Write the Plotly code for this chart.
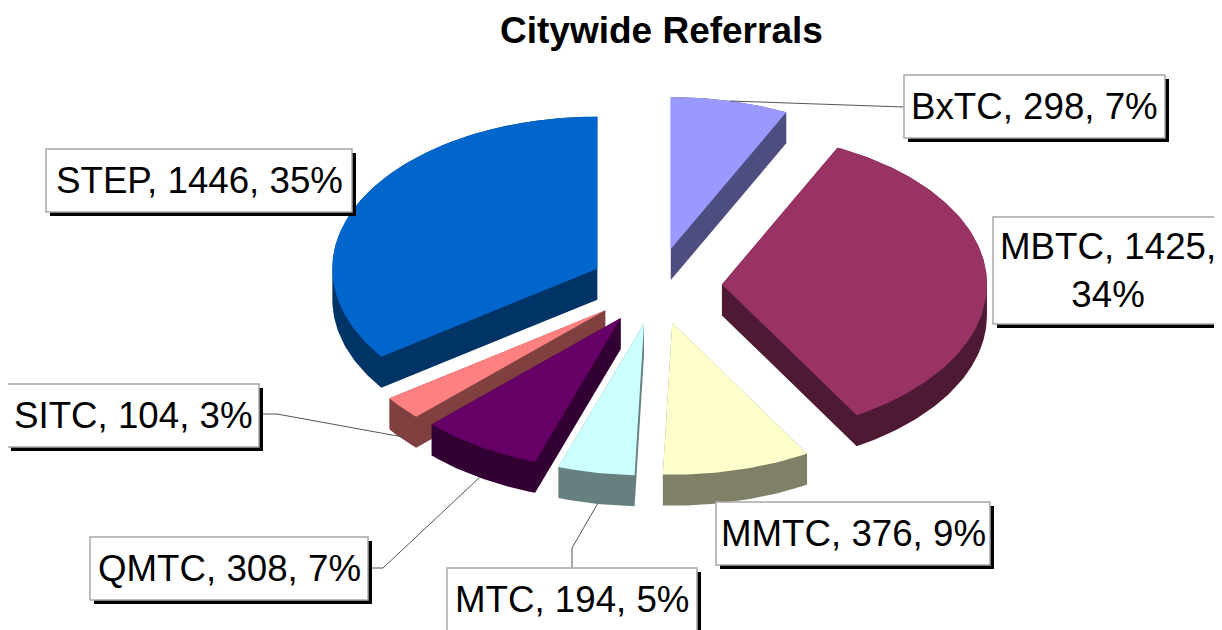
import math
import plotly.graph_objects as go

title = "Citywide Referrals"
names = ["BxTC", "MBTC", "MMTC", "MTC", "QMTC", "SITC", "STEP"]
values = [298, 1425, 376, 194, 308, 104, 1446]
top_colors = ["#9999FF", "#993366", "#FFFFCC", "#CCFFFF", "#660066", "#FF8080", "#0066CC"]
side_colors = ["#4D4D80", "#4D1933", "#808066", "#668080", "#330033", "#804040", "#003366"]

# pie geometry, in page pixels
CX, CY = 656, 286
RX, RY = 265, 152
EXPLODE = 66
DEPTH = 31
# drawing order, back to front
order = ["BxTC", "STEP", "MBTC", "SITC", "QMTC", "MMTC", "MTC"]

boxes = {
    "BxTC": (904, 75, 1165, 138),
    "MBTC": (993, 217, 1226, 324),
    "MMTC": (716, 502, 990, 565),
    "MTC": (447, 568, 697, 634),
    "QMTC": (90, 537, 368, 600),
    "SITC": (7, 384, 259, 447),
    "STEP": (46, 149, 352, 212),
}
leaders = [
    [(904, 107), (730, 101)],
    [(259, 414), (277, 414), (403, 437)],
    [(368, 568), (383, 568), (480, 477)],
    [(598, 503), (572, 548), (572, 568)],
]


def hull(points):
    pts = sorted(set(points))
    def half(seq):
        out = []
        for p in seq:
            while len(out) >= 2 and (out[-1][0] - out[-2][0]) * (p[1] - out[-2][1]) - (out[-1][1] - out[-2][1]) * (p[0] - out[-2][0]) <= 0:
                out.pop()
            out.append(p)
        return out[:-1]
    return half(pts) + half(pts[::-1])


total = sum(values)
start = 0.0
wedges = {}
for n, v in zip(names, values):
    sweep = 360 * v / total
    mid = math.radians(start + sweep / 2)
    ax = CX + EXPLODE * math.sin(mid)
    ay = CY - EXPLODE * RY / RX * math.cos(mid)
    steps = max(int(sweep), 4)
    outline = [(ax, ay)]
    for i in range(steps + 1):
        a = math.radians(start + sweep * i / steps)
        outline.append((ax + RX * math.sin(a), ay - RY * math.cos(a)))
    wedges[n] = outline
    start += sweep

fig = go.Figure()
for n in order:
    i = names.index(n)
    pts = wedges[n]
    solid = hull(pts + [(x, y + DEPTH) for x, y in pts])
    solid.append(solid[0])
    fig.add_trace(go.Scatter(x=[p[0] for p in solid], y=[p[1] for p in solid], mode="lines",
                             fill="toself", fillcolor=side_colors[i], line=dict(width=0),
                             hoverinfo="skip", showlegend=False))
    closed = pts + [pts[0]]
    fig.add_trace(go.Scatter(x=[p[0] for p in closed], y=[p[1] for p in closed], mode="lines",
                             fill="toself", fillcolor=top_colors[i], line=dict(width=0),
                             name=n, hoverinfo="name", showlegend=False))

for path in leaders:
    fig.add_trace(go.Scatter(x=[p[0] for p in path], y=[p[1] for p in path], mode="lines",
                             line=dict(color="#555555", width=1), hoverinfo="skip", showlegend=False))

shapes = []
annotations = []
for n, v in zip(names, values):
    x0, y0, x1, y1 = boxes[n]
    shapes.append(dict(type="rect", xref="x", yref="y", x0=x0 + 4, y0=y0 + 4, x1=x1 + 4, y1=y1 + 4,
                       fillcolor="#000000", line=dict(width=0)))
    shapes.append(dict(type="rect", xref="x", yref="y", x0=x0, y0=y0, x1=x1, y1=y1,
                       fillcolor="#FFFFFF", line=dict(color="#A8A8A8", width=1.5)))
    pct = round(100 * v / total + 1e-9)
    sep = ",<br>" if n == "MBTC" else ", "
    text = f"{n}, {v}{sep}{pct}%"
    annotations.append(dict(x=(x0 + min(x1, 1222)) / 2, y=(y0 + y1) / 2 - (2 if n == "MTC" else 0),
                            xref="x", yref="y", text=text, showarrow=False,
                            font=dict(family="Liberation Sans", size=36.7, color="#000000")))
annotations.append(dict(x=661, y=30, xref="x", yref="y", text=f"<b>{title}</b>", showarrow=False,
                        font=dict(family="Liberation Sans", size=37, color="#000000")))

# The page adds an 8px margin round the plot, so the axes start at 8 and the
# figure ends exactly at the window edge.
fig.update_layout(
    width=1214, height=622, margin=dict(l=0, r=0, t=0, b=0),
    paper_bgcolor="#FFFFFF", plot_bgcolor="#FFFFFF", showlegend=False,
    xaxis=dict(range=[8, 1222], visible=False, fixedrange=True),
    yaxis=dict(range=[630, 8], visible=False, fixedrange=True),
    shapes=shapes, annotations=annotations,
)
fig.write_html("out.html", config={"displayModeBar": False}, default_width="1214px", default_height="622px",
               post_script="document.documentElement.style.overflow='hidden';document.body.style.overflow='hidden';")
